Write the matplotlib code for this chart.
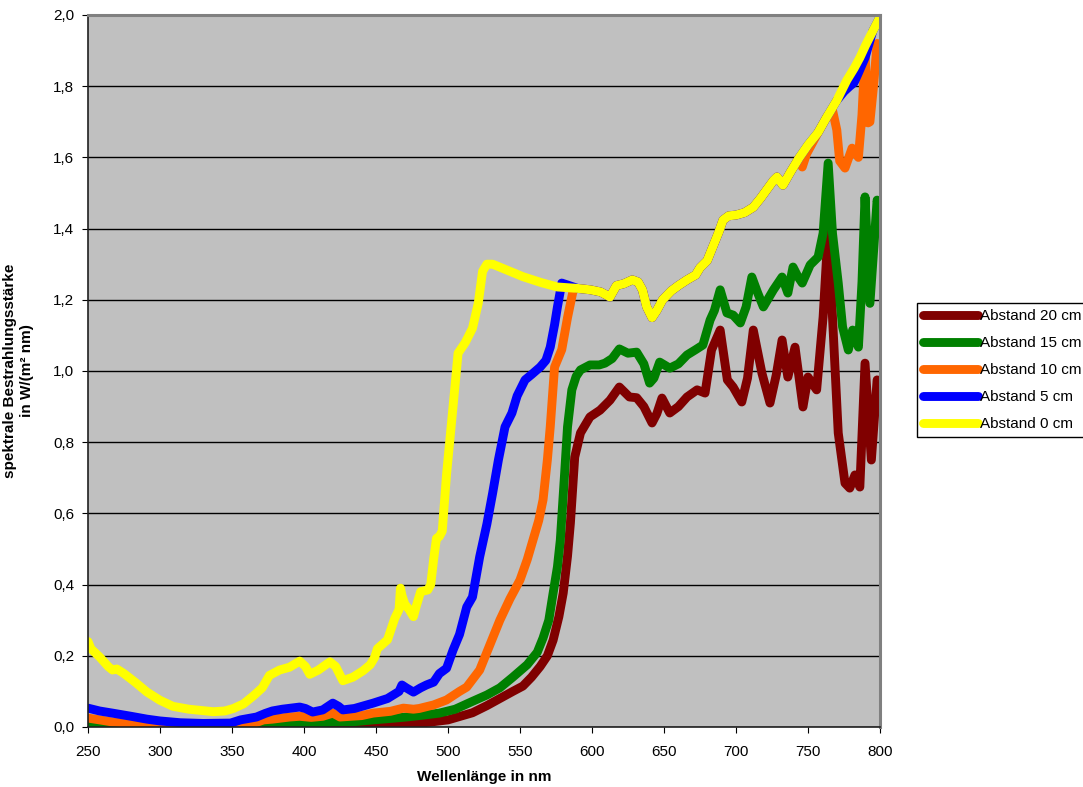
import matplotlib.pyplot as plt
from matplotlib.ticker import FuncFormatter, MultipleLocator

plt.rcParams['font.family'] = ['Liberation Sans', 'DejaVu Sans']

# Abstand 0 cm (gelb)
wl_0 = [250, 252, 258, 264, 267, 270, 275, 283, 291, 300, 309, 320, 337, 345, 351, 358, 365, 371, 376,
        383, 390, 397, 401, 404, 410, 418, 422, 427, 434, 441, 446, 449, 451, 458, 463, 466, 467, 468,
        470, 473, 476, 478, 481, 486, 488, 490, 492, 494, 496, 499, 503.5, 507, 512, 517, 521, 524, 527,
        531, 540, 552, 565, 576, 590, 599, 606, 612.5, 617, 622, 628, 632, 635, 638, 641.7, 645, 649,
        655, 660, 666, 672, 675, 680, 684, 688, 691, 695, 700, 706, 712, 717, 721.5, 726, 728.5, 732.6,
        738, 744, 750, 757, 763, 770, 777, 782, 786, 790, 795, 800]
val_0 = [0.24, 0.22, 0.197, 0.17, 0.16, 0.163, 0.15, 0.125, 0.098, 0.075, 0.058, 0.05, 0.043, 0.045,
         0.052, 0.065, 0.088, 0.11, 0.145, 0.16, 0.168, 0.185, 0.17, 0.148, 0.16, 0.183, 0.17, 0.13,
         0.14, 0.158, 0.175, 0.195, 0.22, 0.245, 0.305, 0.33, 0.39, 0.37, 0.345, 0.33, 0.31, 0.34, 0.38,
         0.385, 0.40, 0.47, 0.53, 0.535, 0.55, 0.71, 0.90, 1.05, 1.08, 1.12, 1.19, 1.28, 1.30, 1.30,
         1.285, 1.265, 1.248, 1.236, 1.232, 1.228, 1.222, 1.208, 1.24, 1.245, 1.256, 1.25, 1.228, 1.18,
         1.15, 1.17, 1.20, 1.225, 1.24, 1.256, 1.27, 1.29, 1.31, 1.35, 1.39, 1.424, 1.436, 1.438, 1.445,
         1.46, 1.485, 1.51, 1.535, 1.545, 1.522, 1.56, 1.60, 1.635, 1.67, 1.713, 1.76, 1.817, 1.85, 1.88,
         1.915, 1.955, 1.994]

# Abstand 5 cm (blau) - ab ca. 580 nm unter der gelben Kurve
wl_5 = [250, 258, 267, 280, 291, 300, 314, 330, 349, 356, 367, 373, 378, 385, 397, 401, 406, 413, 420,
        424, 427, 435, 448, 458, 462, 466, 468, 471, 476, 481, 485, 490, 494, 499, 503.5, 508, 513, 517,
        522, 527, 531, 535, 539.6, 544.4, 548, 553.5, 558, 564, 568, 571, 574, 576, 579,
        590, 599, 606, 612.5, 617, 622, 628, 632, 635, 638, 641.7, 645, 649, 655, 660, 666, 672, 675,
        680, 684, 688, 691, 695, 700, 706, 712, 717, 721.5, 726, 728.5, 732.6, 738, 744, 750, 757, 763,
        770, 775, 779, 782, 785, 789.6, 795, 800]
val_5 = [0.053, 0.045, 0.039, 0.03, 0.022, 0.017, 0.012, 0.01, 0.011, 0.02, 0.028, 0.038, 0.045, 0.05,
         0.056, 0.052, 0.042, 0.048, 0.067, 0.058, 0.048, 0.052, 0.067, 0.08, 0.09, 0.1, 0.118, 0.11,
         0.098, 0.11, 0.118, 0.126, 0.15, 0.165, 0.216, 0.26, 0.337, 0.365, 0.478, 0.57, 0.657, 0.75,
         0.843, 0.882, 0.93, 0.975, 0.99, 1.011, 1.03, 1.067, 1.13, 1.18, 1.247,
         1.232, 1.228, 1.222, 1.208, 1.24, 1.245, 1.256, 1.25, 1.228, 1.18, 1.15, 1.17, 1.20, 1.225,
         1.24, 1.256, 1.27, 1.29, 1.31, 1.35, 1.39, 1.424, 1.436, 1.438, 1.445, 1.46, 1.485, 1.51, 1.535,
         1.545, 1.522, 1.56, 1.60, 1.635, 1.67, 1.713,
         1.76, 1.785, 1.80, 1.81, 1.837, 1.88, 1.955, 1.994]

# Abstand 10 cm (orange) - ab ca. 590 nm unter der gelben Kurve
wl_10 = [250, 258, 267, 280, 300, 320, 350, 365, 372, 378, 390, 397, 405, 413, 420, 425, 440, 448, 460,
         469, 476, 480, 490, 499, 508, 513, 522, 529, 536, 543, 550, 555, 559, 563, 566, 569, 571, 574,
         579, 583, 587,
         590, 599, 606, 612.5, 617, 622, 628, 632, 635, 638, 641.7, 645, 649, 655, 660, 666, 672, 675,
         680, 684, 688, 691, 695, 700, 706, 712, 717, 721.5, 726, 728.5, 732.6, 738, 744,
         746, 749, 757, 763, 767, 770, 772, 775.7, 780.6, 785, 787.5, 789.6, 791.7, 793, 795.5, 798, 800]
val_10 = [0.025, 0.02, 0.014, 0.01, 0.005, 0.003, 0.005, 0.01, 0.02, 0.022, 0.028, 0.03, 0.027, 0.03,
          0.039, 0.028, 0.032, 0.039, 0.044, 0.053, 0.05, 0.052, 0.062, 0.076, 0.1, 0.112, 0.16, 0.23,
          0.3, 0.36, 0.413, 0.47, 0.525, 0.58, 0.638, 0.75, 0.843, 1.011, 1.06, 1.15, 1.228,
          1.232, 1.228, 1.222, 1.208, 1.24, 1.245, 1.256, 1.25, 1.228, 1.18, 1.15, 1.17, 1.20, 1.225,
          1.24, 1.256, 1.27, 1.29, 1.31, 1.35, 1.39, 1.424, 1.436, 1.438, 1.445, 1.46, 1.485, 1.51,
          1.535, 1.545, 1.522, 1.56, 1.60,
          1.573, 1.61, 1.67, 1.713, 1.733, 1.677, 1.59, 1.57, 1.626, 1.60, 1.72, 1.893, 1.697, 1.70,
          1.80, 1.92, 1.90]

# Abstand 15 cm (gruen)
wl_15 = [250, 280, 320, 360, 380, 399, 410, 420, 435, 448, 460, 471, 482, 494, 505, 517, 527, 536,
         545, 555, 562, 566, 570, 573, 576, 578, 581, 583, 586, 589, 592, 598.6, 605, 609, 614, 619, 625,
         631, 636, 640, 643, 647, 654, 660, 666, 672, 677, 682, 685, 689, 693.7, 698, 703, 707, 711, 715,
         719, 726, 732, 736, 739.6, 743, 746, 751.5, 757, 760.5, 764, 767, 771, 774, 778, 781, 785,
         787.5, 789.6, 793, 798, 800]
val_15 = [0.005, 0.002, 0.002, 0.005, 0.008, 0.011, 0.01, 0.014, 0.015, 0.02, 0.024, 0.028, 0.033,
          0.039, 0.05, 0.072, 0.09, 0.11, 0.14, 0.175, 0.21, 0.25, 0.3, 0.376, 0.45, 0.525, 0.713,
          0.843, 0.947, 0.985, 1.003, 1.017, 1.017, 1.022, 1.035, 1.062, 1.05, 1.053, 1.02, 0.966,
          0.98, 1.025, 1.008, 1.02, 1.045, 1.06, 1.073, 1.143, 1.17, 1.228, 1.163, 1.157, 1.135, 1.18,
          1.264, 1.22, 1.18, 1.228, 1.264, 1.219, 1.292, 1.265, 1.247, 1.298, 1.32, 1.387, 1.584, 1.387,
          1.247, 1.124, 1.059, 1.115, 1.067, 1.25, 1.489, 1.19, 1.48, 1.44]

# Abstand 20 cm (dunkelrot)
wl_20 = [250, 300, 350, 400, 450, 480, 500, 517, 527, 536, 545, 552, 558, 564, 569, 573, 577, 580,
         583, 585, 588, 592, 598.6, 605.6, 612.5, 619, 626, 631, 636, 641.7, 645, 648.6, 654, 660, 666,
         673, 678.5, 683, 689, 694, 698, 704, 708, 712, 718, 723.6, 728, 732, 736, 741, 746.5, 750,
         756, 760.5, 764, 767, 771, 775.7, 779, 782.6, 786, 789.6, 794, 798, 800]
val_20 = [0.0, 0.0, 0.0, 0.002, 0.005, 0.01, 0.02, 0.04, 0.06, 0.08, 0.1, 0.115, 0.14, 0.17, 0.2,
          0.244, 0.31, 0.376, 0.48, 0.573, 0.758, 0.826, 0.871, 0.89, 0.918, 0.955, 0.927, 0.925, 0.9,
          0.854, 0.88, 0.924, 0.882, 0.9, 0.927, 0.947, 0.938, 1.059, 1.115, 0.975, 0.955, 0.913, 0.98,
          1.115, 0.994, 0.91, 0.99, 1.087, 0.983, 1.067, 0.899, 0.983, 0.947, 1.152, 1.396, 1.152, 0.826,
          0.685, 0.671, 0.708, 0.674, 1.022, 0.75, 0.975, 0.95]

series = [
    (wl_20, val_20, '#800000', 'Abstand 20 cm'),
    (wl_15, val_15, '#008000', 'Abstand 15 cm'),
    (wl_10, val_10, '#FF6600', 'Abstand 10 cm'),
    (wl_5, val_5, '#0000FF', 'Abstand 5 cm'),
    (wl_0, val_0, '#FFFF00', 'Abstand 0 cm'),
]

fig = plt.figure(figsize=(10.83, 7.87), dpi=100)
ax = fig.add_axes([88/1083, 60/787, 792/1083, 712/787])
ax.set_facecolor('#C0C0C0')

for wl, val, col, lab in series:
    ax.plot(wl, val, color=col, lw=6.4, label=lab, solid_capstyle='round', solid_joinstyle='round')

ax.set_xlim(250, 800)
ax.set_ylim(0, 2.0)
ax.xaxis.set_major_locator(MultipleLocator(50))
ax.yaxis.set_major_locator(MultipleLocator(0.2))
ax.yaxis.set_major_formatter(FuncFormatter(lambda v, p: f"{v:.1f}".replace('.', ',')))
ax.yaxis.grid(True, color='black', lw=1.0)
ax.set_axisbelow(True)
ax.tick_params(direction='out', length=4, labelsize=11, colors='black')
ax.tick_params(axis='x', pad=9)
ax.tick_params(axis='y', pad=6)

for s in ['top', 'right']:
    ax.spines[s].set_color('#808080')
    ax.spines[s].set_linewidth(2.2)
for s in ['left', 'bottom']:
    ax.spines[s].set_color('#202020')
    ax.spines[s].set_linewidth(1.2)

ax.set_xlabel('Wellenlänge in nm', fontsize=11, fontweight='bold', labelpad=8)
ax.set_ylabel('spektrale Bestrahlungsstärke\nin W/(m² nm)', fontsize=11, fontweight='bold', labelpad=14)

leg = fig.legend(loc='center left', bbox_to_anchor=(917/1083, 1 - 370/787), fontsize=11,
                 frameon=True, fancybox=False, edgecolor='black', framealpha=1,
                 handlelength=3.6, handletextpad=0.15, borderpad=0.4, labelspacing=0.85,
                 borderaxespad=0)
leg.get_frame().set_linewidth(1)

fig.savefig('out.png', dpi=100)
